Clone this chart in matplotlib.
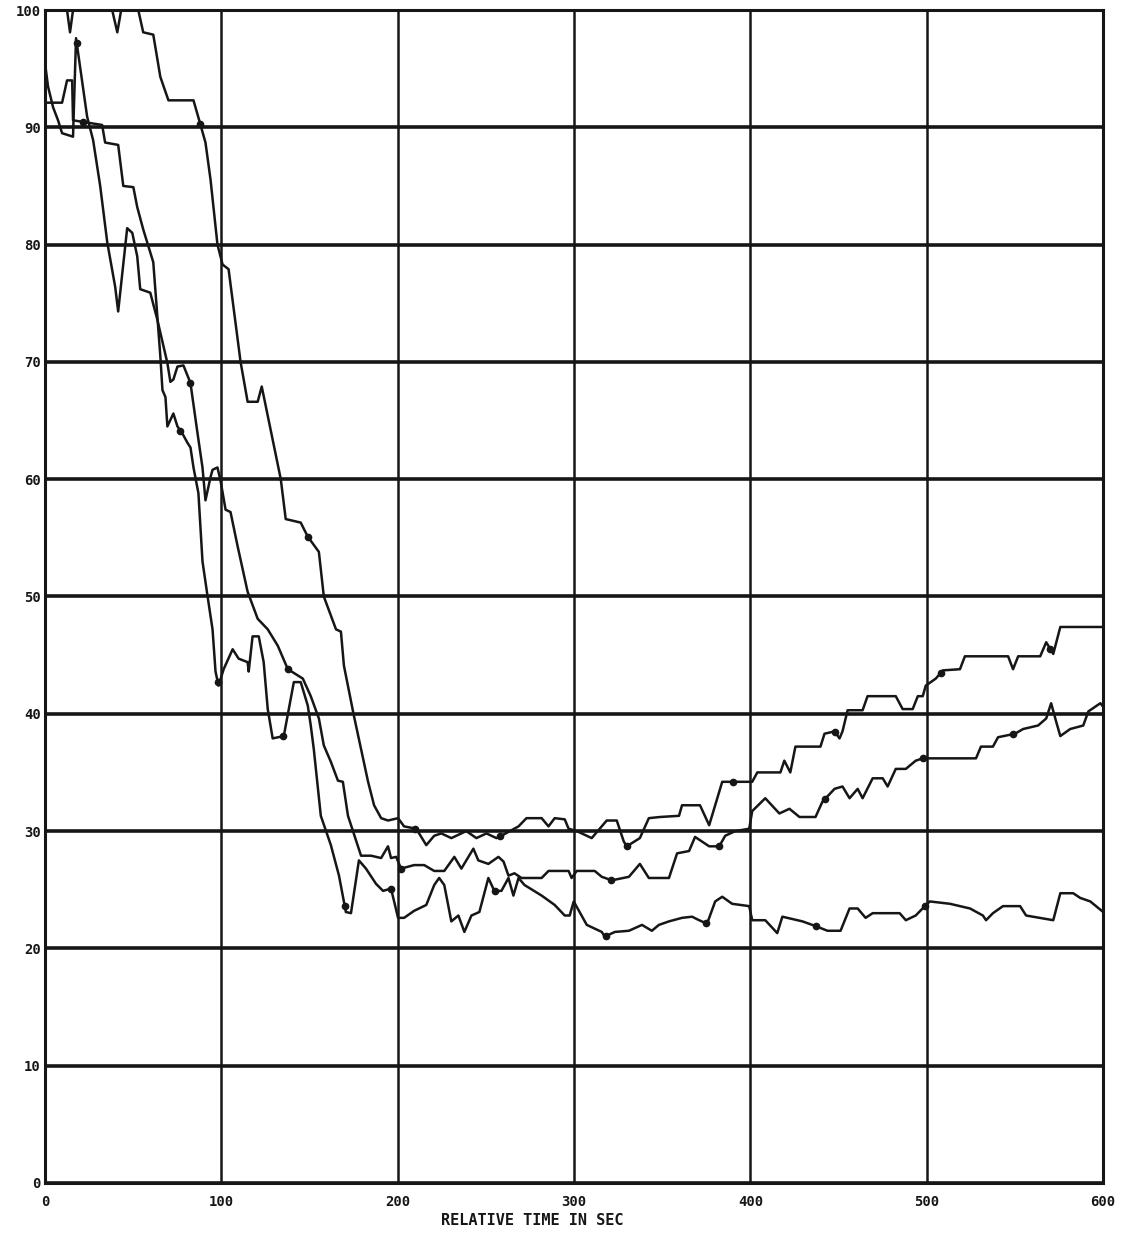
import numpy as np
import matplotlib.pyplot as plt

# series A - upper curve, ends near 47
a_t = [0, 12.5, 14.2, 15.9, 38.1, 41, 43.2, 52.9, 55.7, 61.4, 65.4, 70, 84.2, 88.2, 91,
       93.9, 97.8, 100.7, 104.1, 110.9, 114.9, 120.6, 122.9, 133.7, 136.5, 145, 149, 155.3,
       158.1, 165, 167.8, 169.5, 175.2, 179.2, 183.2, 186.6, 190.6, 194.5, 200.2, 203.6,
       210.5, 216.2, 220.7, 224.7, 230.4, 238.9, 244.6, 250.3, 256, 258.8, 268.5, 273,
       281.6, 285.5, 289, 294.7, 296.9, 301.5, 310, 318.5, 324.2, 328.2, 329.9, 337.3,
       342.4, 348.7, 359.5, 361.2, 371.4, 376.6, 384, 401, 403.9, 417, 419.2, 422.6, 425.5,
       439.7, 442, 447.7, 450.5, 452.2, 455.1, 463.6, 466.4, 482.4, 486.3, 492, 494.9,
       497.7, 499.4, 505.1, 509.1, 518.8, 521.6, 546.1, 548.9, 551.8, 564.3, 567.7, 571.7,
       575.7, 600]
a_v = [100, 100, 98.1, 100, 100, 98.1, 100, 100, 98.1, 97.9, 94.3, 92.3, 92.3, 90.2, 88.7,
       85.5, 80, 78.3, 77.9, 70, 66.6, 66.6, 67.9, 60, 56.6, 56.3, 55.1, 53.8,
       50, 47.2, 47, 44.1, 39.8, 37, 34.2, 32.2, 31.1, 30.9, 31.1, 30.4,
       30.2, 28.8, 29.6, 29.8, 29.4, 30, 29.4, 29.8, 29.4, 29.6, 30.4, 31.1,
       31.1, 30.4, 31.1, 31, 30.2, 30, 29.4, 30.9, 30.9, 29.1, 28.7, 29.4,
       31.1, 31.2, 31.3, 32.2, 32.2, 30.5, 34.2, 34.2, 35, 35, 36, 35, 37.2,
       37.2, 38.3, 38.5, 37.9, 38.5, 40.3, 40.3, 41.5, 41.5, 40.4, 40.4, 41.5,
       41.5, 42.4, 43, 43.7, 43.8, 44.9, 44.9, 43.8, 44.9, 44.9, 46.1, 45.1,
       47.4, 47.4]

# series B - middle curve, ends near 41
b_t = [0, 1.7, 4.6, 7.4, 9.7, 15.9, 17.6, 23.9, 27.3, 31.3, 35.3, 39.8, 41.5, 46.6, 49.5,
       52.3, 54, 59.7, 63.7, 69.4, 71.1, 72.8, 75.1, 78.5, 82.5, 83.6, 86.5, 89.3, 91,
       93.9, 95, 97.8, 99.5, 102.4, 105.2, 109.2, 114.9, 120.6, 126.3, 132, 137.7, 146.2,
       150.7, 155.3, 158.1, 162.1, 166.1, 168.9, 171.8, 179.2, 184.9, 190.6, 194.5, 196.2,
       199.1, 201.9, 209.3, 215, 220.7, 226.4, 232.1, 236.1, 242.9, 245.7, 251.4, 257.1,
       260, 262.8, 266.2, 270.2, 281.6, 285.5, 296.9, 298.6, 301.5, 311.7, 315.7, 321.4,
       331.1, 337.3, 342.4, 353.8, 358.4, 365.2, 368.6, 376.6, 382.3, 385.7, 391.4, 399.3,
       401, 408.4, 416.4, 422.1, 427.8, 436.9, 440.8, 447.7, 452.2, 456.2, 460.8, 463.6,
       469.3, 475, 477.8, 482.4, 488.1, 493.7, 497.7, 527.9, 530.7, 537.5, 540.4, 550,
       554.6, 563.1, 567.7, 570.5, 573.4, 575.7, 581.3, 588.7, 591.6, 598.4, 600]
b_v = [95.5, 93.5, 91.7, 90.6, 89.5, 89.2, 97.6, 90.9, 88.9, 85, 80.2, 76.4, 74.3, 81.4, 81,
       79, 76.2, 75.9, 73.6, 69.9, 68.3, 68.5, 69.6, 69.7, 68.2, 67, 63.9, 61, 58.2,
       60.2, 60.8, 61, 59.9, 57.4, 57.2, 54.3, 50.4, 48.1, 47.2, 45.8, 43.8, 43,
       41.5, 39.6, 37.3, 35.9, 34.3, 34.2, 31.3, 27.9, 27.9, 27.7, 28.7, 27.7,
       27.8, 26.8, 27.1, 27.1, 26.6, 26.6, 27.8, 26.8, 28.5, 27.5, 27.2, 27.8,
       27.4, 26.2, 26.4, 26, 26, 26.6, 26.6, 26, 26.6, 26.6, 26.1, 25.8,
       26.1, 27.2, 26, 26, 28.1, 28.3, 29.5, 28.7, 28.7, 29.6, 30, 30.2,
       31.7, 32.8, 31.5, 31.9, 31.2, 31.2, 32.5, 33.6, 33.8, 32.8, 33.6, 32.8,
       34.5, 34.5, 33.8, 35.3, 35.3, 36, 36.2, 36.2, 37.2, 37.2, 38, 38.3,
       38.7, 39, 39.6, 40.9, 39.3, 38.1, 38.7, 39, 40.2, 40.9, 40.6]

# series C - lower curve, ends near 23
c_t = [0, 9.7, 12.5, 15.4, 15.9, 19.9, 32.4, 34.1, 41.5, 44.4, 50.1, 52.3, 55.7, 61.4, 65.4,
       66.6, 68.3, 69.4, 72.8, 75.1, 77.9, 80.8, 82.5, 84.2, 87, 89.3, 92.2, 95, 96.7,
       98.4, 101.3, 106.4, 109.8, 114.9, 115.5, 117.7, 121.2, 124, 126.3, 129.1, 135.4,
       141.1, 145, 149, 150.7, 152.4, 156.4, 162.1, 166.7, 170.6, 173.5, 178, 182, 187.7,
       191.7, 196.2, 200.2, 203.6, 209.3, 216.2, 220.7, 223.5, 226.4, 230.4, 234.4, 237.8,
       241.8, 246.3, 251.4, 254.8, 258.8, 262.8, 265.6, 268.5, 271.9, 281.6, 289, 294.7,
       297.5, 299.8, 307.2, 315.7, 317.4, 323.1, 331.1, 338.5, 344.1, 348.1, 353.8, 361.2,
       366.9, 370.9, 375.4, 380, 384, 389.6, 399.3, 401, 408.4, 415.2, 418.1, 429.5,
       436.9, 443.7, 451.1, 456.2, 460.8, 465.3, 469.3, 484.6, 488.1, 493.7, 498.9, 501.7,
       513.1, 524.5, 531.8, 533.6, 537.5, 543.2, 552.9, 556.3, 571.7, 575.7, 583, 587,
       592.7, 600]
c_v = [92.1, 92.1, 94, 94, 90.6, 90.5, 90.2, 88.7, 88.5, 85, 84.9, 83.2, 81.3, 78.5, 70.5,
       67.6, 67, 64.5, 65.6, 64.5, 63.9, 63.1, 62.7, 61, 58.8, 53, 50, 47.2, 43.6,
       42.4, 43.8, 45.5, 44.7, 44.4, 43.6, 46.6, 46.6, 44.4, 40.4, 37.9, 38.1,
       42.7, 42.7, 40.7, 39, 37, 31.3, 28.8, 26.2, 23.1, 23, 27.5, 26.8, 25.5,
       24.9, 25.1, 22.6, 22.6, 23.2, 23.7, 25.4, 26, 25.4, 22.3, 22.8, 21.4,
       22.8, 23.1, 26, 24.9, 24.9, 26, 24.5, 26, 25.4, 24.5, 23.7, 22.8,
       22.8, 24, 22, 21.4, 21, 21.4, 21.5, 22, 21.5, 22, 22.3, 22.6,
       22.7, 22.4, 22.1, 24, 24.4, 23.8, 23.6, 22.4, 22.4, 21.3, 22.7, 22.3,
       21.9, 21.5, 21.5, 23.4, 23.4, 22.6, 23, 23, 22.4, 22.8, 23.6, 24,
       23.8, 23.4, 22.8, 22.4, 23, 23.6, 23.6, 22.8, 22.4, 24.7, 24.7, 24.3,
       24, 23.1]

# times where the plotter put its little symbols on each curve
a_marks = [88, 149, 210, 258, 330, 390, 448, 508, 570]
b_marks = [18, 82.5, 137.7, 202, 321, 382, 442, 497.7, 549]
c_marks = [21.6, 76.8, 98, 135, 170, 196, 255, 318, 375, 437, 499]

x_ticks = [0, 100, 200, 300, 400, 500, 600]
y_ticks = [0, 10, 20, 30, 40, 50, 60, 70, 80, 90, 100]

ink = '#161616'
mono = 'DejaVu Sans Mono'

fig = plt.figure(figsize=(11.36, 12.37), dpi=100)
ax = fig.add_axes([0.0396, 0.0437, 0.9315, 0.9482])

for t, v, m in [(a_t, a_v, a_marks), (b_t, b_v, b_marks), (c_t, c_v, c_marks)]:
    ax.plot(t, v, color=ink, lw=1.8, solid_joinstyle='round', zorder=3)
    ax.plot(m, np.interp(m, t, v), ls='none', marker='o', ms=4.5, color=ink, zorder=4)

ax.set_xlim(0, 600)
ax.set_ylim(0, 100)
ax.set_xticks(x_ticks)
ax.set_yticks(y_ticks)
ax.set_xticklabels([str(x) for x in x_ticks], fontfamily=mono, fontweight='bold', fontsize=10)
ax.set_yticklabels([str(y) for y in y_ticks], fontfamily=mono, fontweight='bold', fontsize=10)
ax.tick_params(axis='both', length=0, colors=ink)
ax.tick_params(axis='x', pad=9)
ax.tick_params(axis='y', pad=3)

ax.yaxis.grid(True, color=ink, lw=2.6, zorder=1)
ax.xaxis.grid(True, color=ink, lw=1.8, zorder=1)
ax.set_axisbelow(True)
for s in ax.spines.values():
    s.set_linewidth(2.2)
    s.set_color(ink)

ax.set_xlabel('RELATIVE TIME IN SEC', fontfamily=mono, fontweight='bold', fontsize=11, color=ink)
ax.xaxis.set_label_coords(0.46, -0.026)

fig.savefig('out.png', dpi=100, facecolor='white')
